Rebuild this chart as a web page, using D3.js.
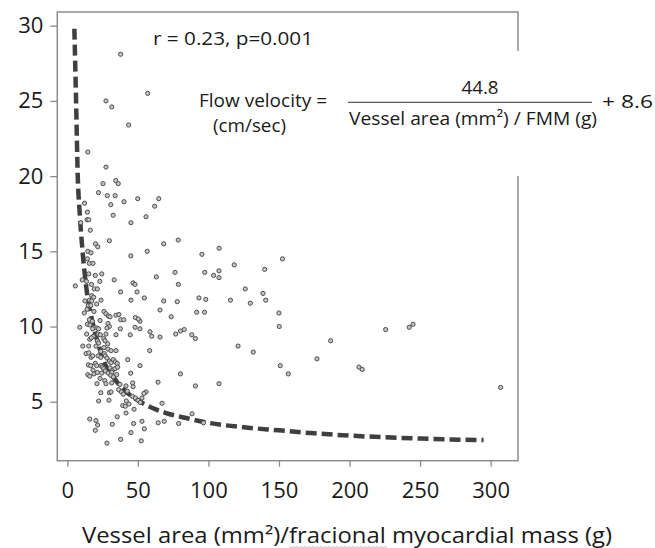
<!DOCTYPE html>
<html><head><meta charset="utf-8">
<script src="https://cdn.jsdelivr.net/npm/d3@7"></script>
<style>
body{margin:0;background:#fff}
text{font-family:'Open Sans',Lato,sans-serif;fill:#1a1a1a}
</style>
</head><body>
<svg id="c" width="655" height="548"></svg>
<script>
const xTicks = [0, 50, 100, 150, 200, 250, 300];
const yTicks = [5, 10, 15, 20, 25, 30];

// Vessel area / FMM (x) and flow velocity cm/sec (y)
const vesselArea = [
37.8,57.0,27.4,31.5,43.5,14.5,27.4,25.3,34.3,36.1,22.1,28.3,33.9,49.9,64.8,61.9,30.8,40.2,12.2,14.2,32.5,14.0,15.2,9.5,45.1,55.8,16.3,20.0,21.6,29.8,14.5,16.8,45.0,56.6,68.3,78.6,95.4,107.6,152.5,14.2,15.6,18.2,24.4,19.8,15.2,33.2,23.0,10.6,13.6,17.1,5.7,46.6,48.0,49.4,19.1,21.3,
118.3,76.3,63.1,78.7,97.4,103.7,107.5,107.5,54.6,68.3,77.9,93.3,98.1,115.6,65.7,73.6,91.7,97.2,51.5,51.5,58.6,59.8,65.7,76.8,80.2,82.9,88.2,90.8,121.0,58.4,51.5,80.2,64.3,90.8,107.5,55.8,54.3,52.9,67.1,88.4,52.9,64.4,68.7,78.9,96.5,54.6,52.4,
139.9,126.1,138.7,140.6,129.7,150.0,150.2,131.8,186.6,176.9,150.9,156.6,206.7,209.0,225.6,242.3,245.0,307.1,
37.8,17.3,18.7,15.6,17.3,12.5,23.9,20.8,14.9,16.6,45.1,18.9,14.0,12.0,26.0,27.4,29.0,30.3,34.5,36.6,37.8,40.0,23.2,15.6,17.7,48.2,50.3,8.8,14.2,16.1,18.0,21.0,22.2,28.8,29.8,28.1,37.6,48.0,34.5,44.6,13.7,18.4,21.8,23.4,25.8,27.4,15.9,17.0,21.3,22.2,15.2,11.0,20.3,26.7,28.6,26.0,28.8,31.0,23.7,34.5,13.3,15.2,16.8,18.0,21.8,23.7,26.2,26.9,28.1,29.8,31.0,32.6,34.0,35.4,42.8,
14.9,16.6,19.8,20.8,23.9,24.8,18.2,25.8,26.9,30.3,32.2,33.8,35.7,14.5,18.9,21.3,24.4,29.0,31.5,35.0,15.9,30.8,32.6,44.9,23.2,21.0,26.5,27.4,31.5,37.3,41.6,46.3,46.6,36.4,38.3,39.7,42.5,29.8,31.0,23.7,46.3,48.2,50.1,51.7,41.8,43.7,39.3,41.1,22.2,29.5,47.3,41.6,35.4,15.9,20.3,21.5,19.8,31.9,47.0,45.1,37.8,28.1
];
const velocity = [
28.1,25.5,25.0,24.6,23.4,21.6,20.6,19.5,19.7,19.5,18.9,18.7,18.7,18.5,18.5,18.0,18.1,18.3,18.2,17.6,17.4,17.1,17.1,16.9,16.9,17.3,16.4,15.5,15.3,15.7,15.0,14.9,14.7,15.0,15.5,15.75,14.8,15.2,14.5,14.5,14.2,14.2,13.5,13.4,13.5,13.1,13.0,13.1,13.0,12.8,12.7,12.9,12.8,12.3,12.5,12.5,
14.1,13.6,13.3,12.8,13.6,13.4,13.7,13.25,11.9,11.7,11.65,11.9,11.8,11.75,11.1,10.65,10.95,10.95,10.35,9.85,9.65,9.35,9.3,9.5,9.7,9.8,9.45,9.2,8.7,8.4,7.4,6.85,6.3,6.05,6.2,5.65,5.55,5.25,4.9,4.2,3.7,3.6,3.7,3.55,3.6,3.2,2.4,
13.8,12.5,12.2,11.75,11.55,10.9,10.0,8.3,9.05,7.85,7.4,6.85,7.3,7.15,9.8,9.95,10.15,5.95,
12.3,12.05,11.95,11.75,11.7,11.7,11.75,11.5,11.4,11.4,11.75,11.0,11.15,10.9,11.0,10.85,10.7,10.65,10.75,10.8,10.45,10.45,10.4,10.45,10.35,10.6,10.5,9.95,10.15,10.1,9.85,9.9,9.85,10.2,10.0,9.9,9.85,9.95,9.45,9.45,9.5,9.35,9.5,9.45,9.2,9.5,9.15,9.25,9.05,8.9,8.7,8.7,8.7,9.05,8.85,8.6,8.5,8.4,8.35,8.4,8.2,8.25,7.95,8.05,8.05,7.95,8.2,8.05,7.9,7.7,7.6,7.8,7.65,7.55,7.8,
7.45,7.4,7.55,7.4,7.4,7.3,7.1,7.2,7.05,7.25,7.1,7.2,7.3,6.8,6.85,6.95,6.9,6.9,6.95,6.8,6.7,6.75,6.65,6.9,6.55,6.2,6.4,6.2,6.25,6.15,6.05,6.25,6.0,5.8,5.65,5.5,5.7,5.6,5.65,5.6,5.35,5.25,5.1,4.95,5.05,4.85,4.75,4.7,5.05,5.1,4.5,4.25,4.0,3.85,3.75,3.45,3.1,3.5,3.55,2.95,2.5,2.25
];

// Fitted curve, points
const fitArea     = [5.0, 6.2, 7.4, 8.8, 10.8, 14, 18.6, 22, 26.7, 30, 40, 50, 60, 70, 85, 100, 125, 150, 175, 200, 250, 295];
const fitVelocity = [29.8, 25.0, 20.0, 17.5, 15.0, 12.2, 10.0, 8.8, 7.5, 7.0, 5.8, 5.1, 4.6, 4.25, 3.9, 3.6, 3.3, 3.1, 2.9, 2.75, 2.55, 2.45];

const svg = d3.select('#c');
const x = d3.scaleLinear().domain([-7.1, 319.4]).range([57.3, 518]);
const y = d3.scaleLinear().domain([1.08, 30.91]).range([460.7, 12]);
const frameColor = '#8c8c8c';

const [x0, x1] = x.range();
const [y0, y1] = y.range();
svg.append('rect').attr('x', x0).attr('y', y1).attr('width', x1 - x0).attr('height', y0 - y1)
  .attr('fill', 'none').attr('stroke', frameColor).attr('stroke-width', 1.5);

const yAxis = svg.append('g').attr('transform', `translate(${x0},0)`)
  .call(d3.axisLeft(y).tickValues(yTicks).tickSize(7).tickPadding(7));
const xAxis = svg.append('g').attr('transform', `translate(0,${y0})`)
  .call(d3.axisBottom(x).tickValues(xTicks).tickSize(6).tickPadding(15.5));
[xAxis, yAxis].forEach(a => {
  a.select('.domain').remove();
  a.selectAll('line').attr('stroke', frameColor).attr('stroke-width', 1.3);
  a.selectAll('text').style('font-family', "'Open Sans', sans-serif").style('font-size', '22px').attr('fill', '#1a1a1a');
});

const fit = fitArea.map((a, i) => [a, fitVelocity[i]]);
svg.append('path').datum(fit)
  .attr('d', d3.line().x(d => x(d[0])).y(d => y(d[1])).curve(d3.curveMonotoneX))
  .attr('fill', 'none').attr('stroke', '#3f3f3f').attr('stroke-width', 4.5)
  .attr('stroke-dasharray', '11,5');

const pts = vesselArea.map((a, i) => [a, velocity[i]]);
svg.append('g').selectAll('circle').data(pts).join('circle')
  .attr('cx', d => x(d[0])).attr('cy', d => y(d[1])).attr('r', 2.1)
  .attr('fill', '#c4c4c4').attr('stroke', '#4d4d4d').attr('stroke-width', 1);

svg.append('rect').attr('x', 190).attr('y', 51).attr('width', 465).attr('height', 125).attr('fill', '#fff');

function label(xp, yp, size, str, width, anchor) {
  const t = svg.append('text').attr('x', xp).attr('y', yp).style('font-size', size + 'px')
    .attr('text-anchor', anchor || 'start').text(str);
  if (width) t.attr('textLength', width).attr('lengthAdjust', 'spacingAndGlyphs');
  return t;
}
label(153, 45, 19, 'r = 0.23, p=0.001', 160);
label(199, 107, 18, 'Flow velocity =', 128);
label(213, 132, 18, '(cm/sec)', 73);
label(480, 94, 18, '44.8', 37, 'middle');
svg.append('line').attr('x1', 348).attr('x2', 592).attr('y1', 102.3).attr('y2', 102.3)
  .attr('stroke', '#333').attr('stroke-width', 1);
label(349, 125, 18, 'Vessel area (mm²) / FMM (g)', 248);
label(602, 108, 18, '+ 8.6', 51);

const t = label(82, 543, 22, 'Vessel area (mm²)/fracional myocardial mass (g)', 530);
const s = t.text();
const i0 = s.indexOf('fracional');
const node = t.node();
const sx = node.getStartPositionOfChar(i0).x;
const ex = node.getEndPositionOfChar(i0 + 8).x;
let wave = `M${sx},546.5`;
for (let xx = sx, k = 0; xx < ex; xx += 2, k++) wave += `L${xx + 2},${k % 2 ? 546.5 : 548}`;
svg.append('path').attr('d', wave).attr('fill', 'none').attr('stroke', '#aaa').attr('stroke-width', 0.8);
</script>
</body></html>
